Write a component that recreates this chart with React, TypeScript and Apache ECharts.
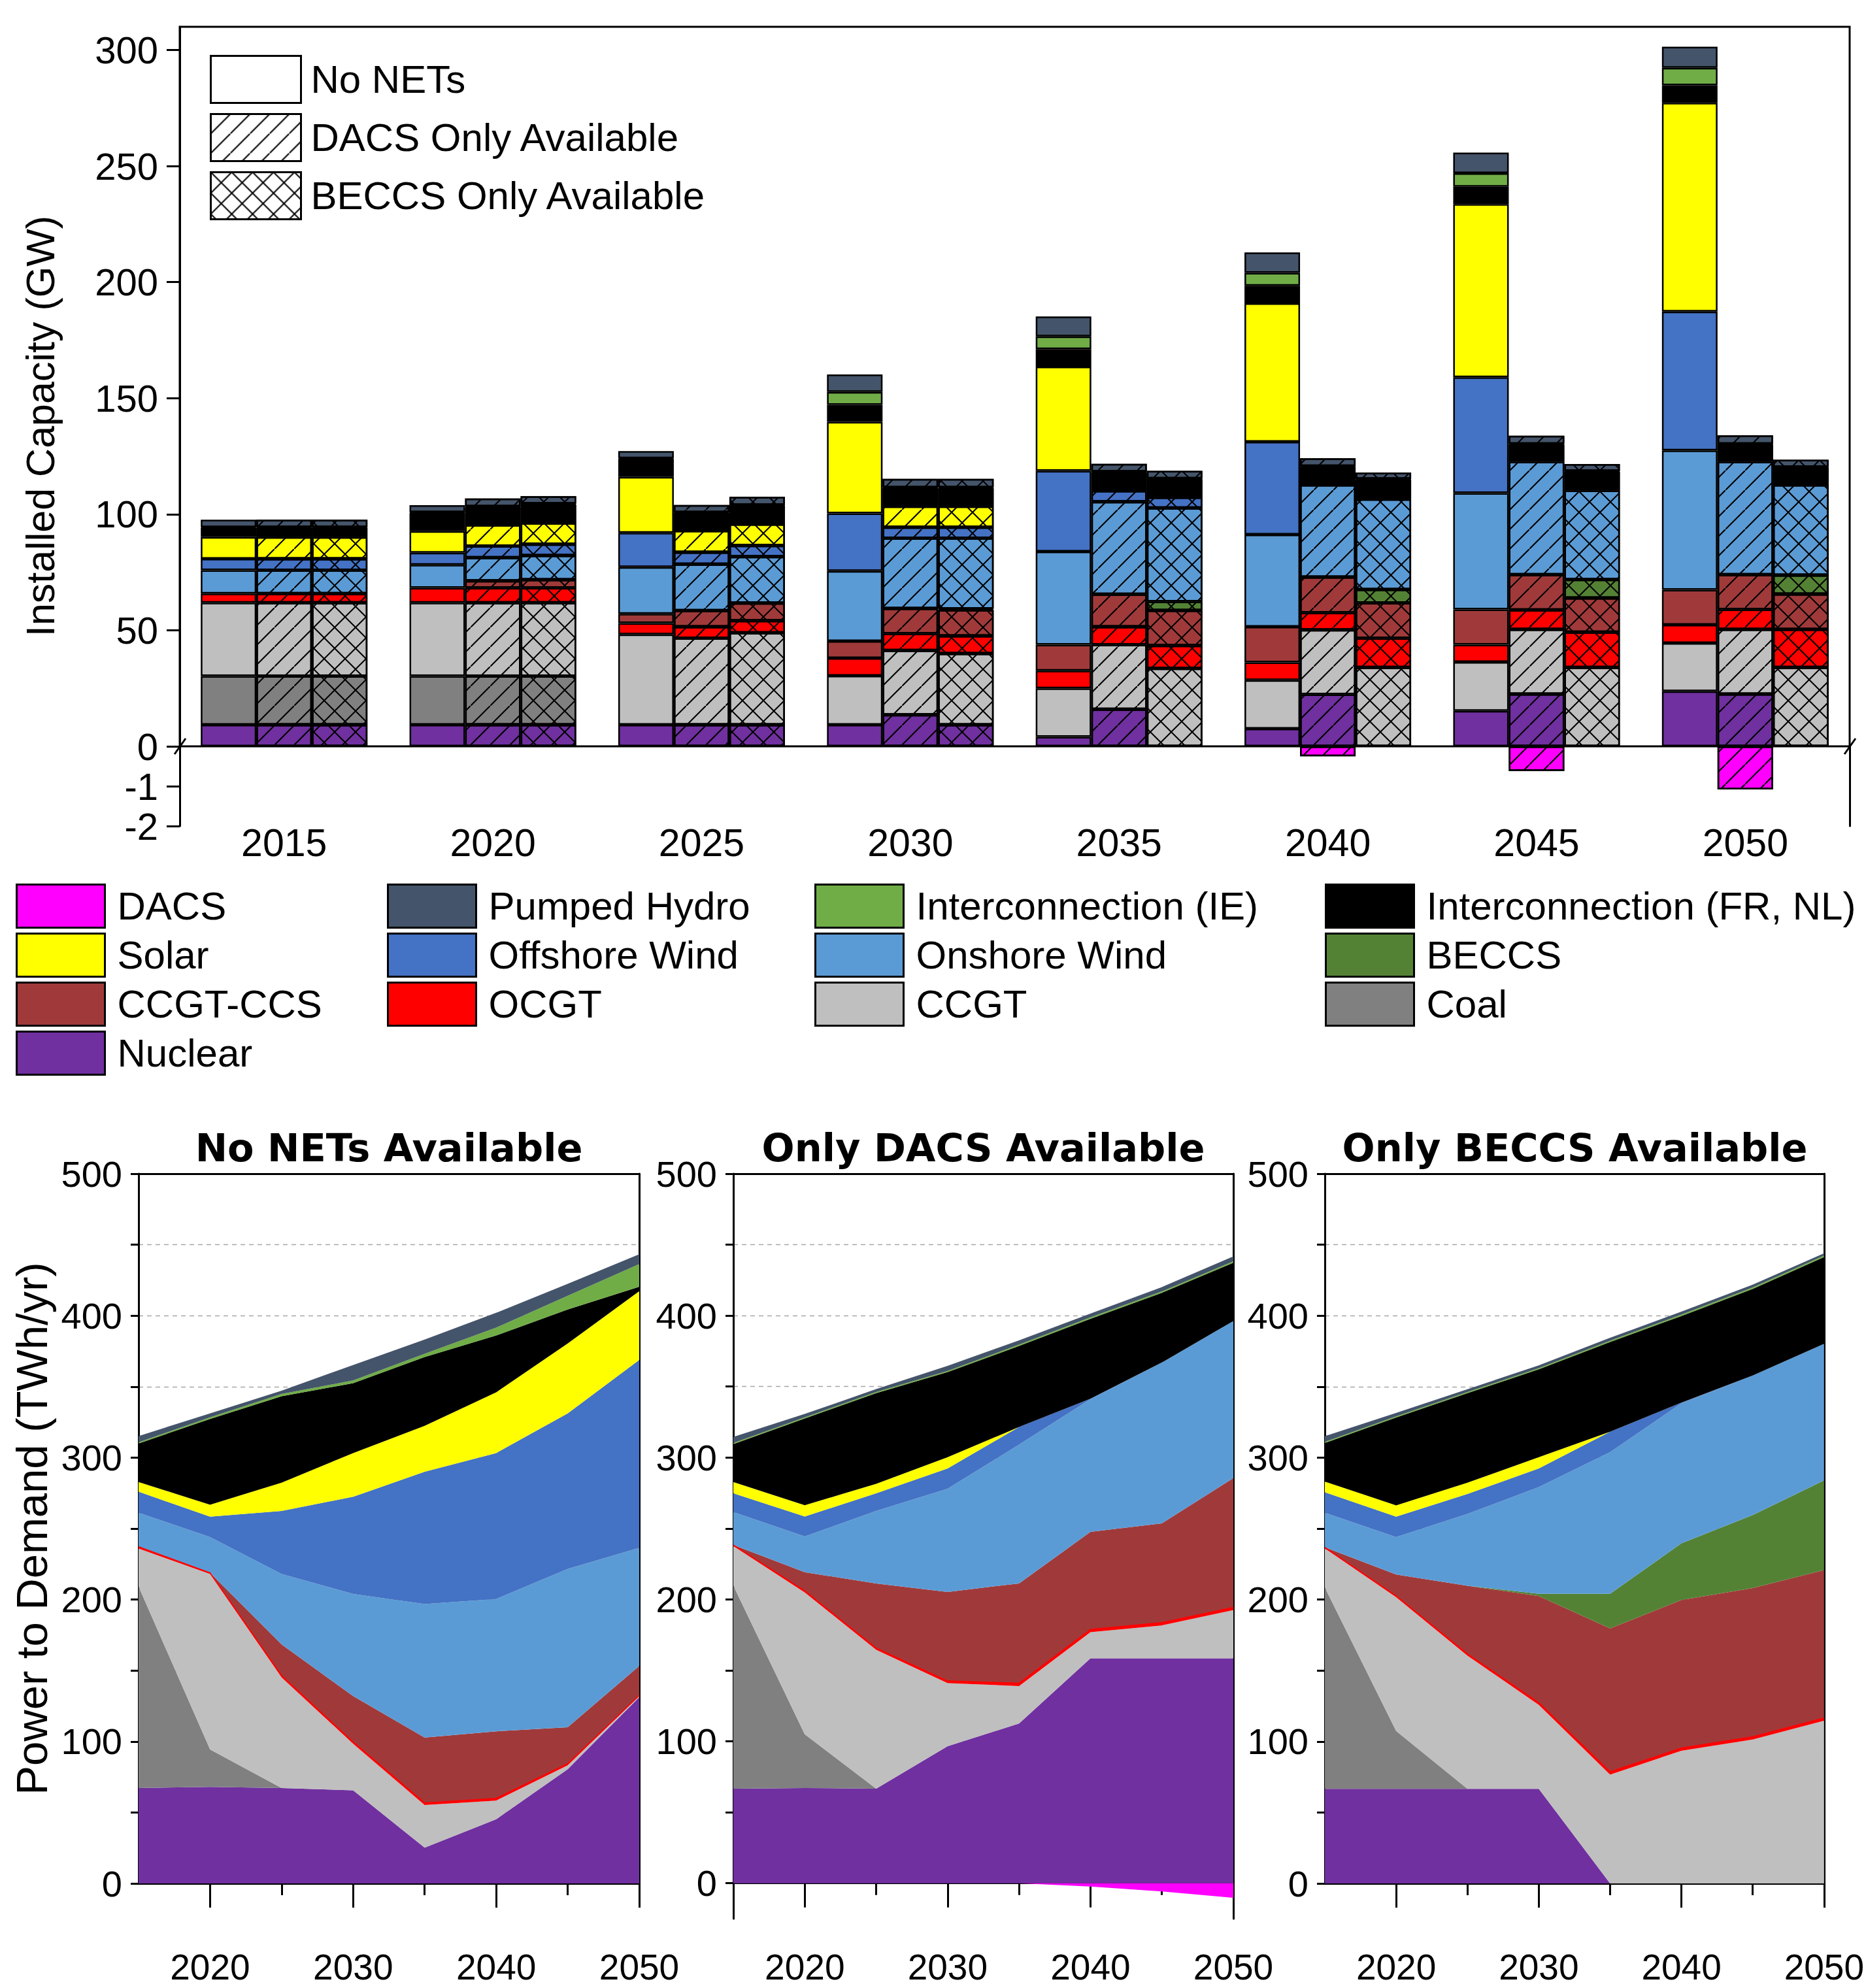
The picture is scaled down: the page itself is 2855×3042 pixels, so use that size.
import React, { useEffect, useRef } from 'react';
import * as echarts from 'echarts';

// ---------------- data ----------------
const years = ['2015', '2020', '2025', '2030', '2035', '2040', '2045', '2050'];
const scenarios = ['No NETs', 'DACS Only Available', 'BECCS Only Available'];
const capacityTicks = [0, 50, 100, 150, 200, 250, 300];
const negativeTicks = [-2, -1];
const demandTicks = [0, 50, 100, 150, 200, 250, 300, 350, 400, 450, 500];
const demandLabels = [0, 100, 200, 300, 400, 500];
const panelTitles = ['No NETs Available', 'Only DACS Available', 'Only BECCS Available'];

// Installed capacity (GW) per technology: [No NETs, DACS only, BECCS only]
const capNuclear = [
  [9.3, 9.3, 9.3, 9.3, 4.1, 7.6, 15.3, 23.7],
  [9.3, 9.3, 9.3, 13.6, 16.0, 22.4, 22.5, 22.5],
  [9.3, 9.3, 9.3, 9.3, 0, 0, 0, 0],
];
const capCoal = [
  [21.0, 21.0, 0, 0, 0, 0, 0, 0],
  [21.0, 21.0, 0, 0, 0, 0, 0, 0],
  [21.0, 21.0, 0, 0, 0, 0, 0, 0],
];
const capCCGT = [
  [31.6, 31.6, 38.9, 21.1, 20.9, 20.9, 21.0, 20.8],
  [31.6, 31.6, 37.3, 27.7, 27.8, 27.8, 27.9, 27.9],
  [31.6, 31.6, 39.6, 30.7, 33.6, 34.0, 34.0, 34.0],
];
const capOCGT = [
  [3.9, 6.4, 4.9, 7.6, 7.6, 7.7, 7.5, 7.9],
  [3.9, 6.4, 4.9, 7.3, 7.7, 7.4, 8.4, 8.6],
  [3.9, 6.4, 5.2, 7.6, 9.8, 12.6, 15.2, 16.4],
];
const capCCS = [
  [0, 0, 4.0, 7.3, 11.2, 15.3, 15.2, 15.0],
  [0, 3.0, 7.0, 10.8, 14.0, 15.3, 15.2, 15.0],
  [0, 3.5, 7.6, 11.2, 15.2, 15.2, 14.7, 15.2],
];
const capBECCS = [
  [0, 0, 0, 0, 0, 0, 0, 0],
  [0, 0, 0, 0, 0, 0, 0, 0],
  [0, 0, 0, 0.5, 3.8, 5.8, 8.0, 8.2],
];
const capOnshore = [
  [10.1, 9.9, 20.1, 30.2, 40.1, 39.7, 50.1, 60.1],
  [10.1, 10.0, 20.0, 30.3, 39.9, 39.7, 48.6, 48.6],
  [10.1, 10.4, 20.0, 30.4, 40.3, 38.9, 38.3, 38.8],
];
const capOffshore = [
  [4.9, 5.2, 14.8, 24.9, 34.8, 40.0, 49.9, 59.8],
  [4.9, 5.0, 5.1, 4.7, 4.7, 0, 0, 0],
  [4.9, 4.9, 4.8, 4.7, 4.6, 0, 0, 0],
];
const capSolar = [
  [9.4, 9.3, 24.1, 39.4, 44.9, 59.7, 74.6, 90.0],
  [9.4, 9.1, 9.3, 9.0, 0, 0, 0, 0],
  [9.4, 9.1, 9.2, 9.0, 0, 0, 0, 0],
];
const capFRNL = [
  [3.9, 7.9, 7.7, 7.3, 7.5, 7.5, 7.5, 7.5],
  [3.9, 7.6, 7.6, 7.8, 7.9, 7.8, 7.4, 7.4],
  [3.9, 8.0, 8.0, 7.8, 7.8, 8.4, 8.1, 7.5],
];
const capIE = [
  [0.3, 0.3, 0.3, 5.6, 5.5, 5.6, 5.8, 7.5],
  [0.3, 0.3, 0.3, 0.3, 0.3, 0.3, 0.3, 0.3],
  [0.3, 0.3, 0.3, 0.3, 0.3, 0.3, 0.3, 0.3],
];
const capPH = [
  [3.2, 3.0, 3.1, 7.5, 8.6, 8.8, 8.9, 9.1],
  [3.2, 3.5, 3.2, 3.7, 3.4, 3.4, 3.5, 3.7],
  [3.2, 3.3, 3.5, 3.7, 3.3, 2.8, 3.0, 3.1],
];
const capDACS = [
  [0, 0, 0, 0, 0, 0, 0, 0],
  [0, 0, 0, 0, 0, -0.25, -0.62, -1.08],
  [0, 0, 0, 0, 0, 0, 0, 0],
];

// Power to demand (TWh/yr) per technology: [No NETs, Only DACS, Only BECCS]
const genNuclear = [
  [67.2, 68.0, 67.2, 65.6, 25.2, 45.2, 80.4, 131.2],
  [66.7, 67.1, 66.7, 96.6, 112.6, 158.5, 158.5, 158.5],
  [66.7, 66.7, 66.7, 66.7, 0, 0, 0, 0],
];
const genCoal = [
  [142.0, 26.4, 0, 0, 0, 0, 0, 0],
  [143.0, 37.9, 0, 0, 0, 0, 0, 0],
  [141.8, 40.7, 0, 0, 0, 0, 0, 0],
];
const genCCGT = [
  [26.8, 123.6, 78.0, 32.8, 30.0, 13.2, 2.8, 0.8],
  [27.9, 99.9, 97.8, 44.4, 26.4, 18.4, 23.2, 34.0],
  [27.5, 94.3, 93.8, 59.1, 76.7, 93.5, 101.4, 114.6],
];
const genOCGT = [
  [1.2, 0.8, 1.2, 1.2, 1.6, 1.6, 1.2, 0.4],
  [0.8, 1.1, 1.2, 1.6, 2.0, 2.0, 2.0, 2.0],
  [0.8, 0.8, 1.2, 1.6, 2.0, 1.9, 2.0, 2.0],
];
const genCCS = [
  [0, 0, 22.0, 32.4, 46.0, 47.2, 25.6, 20.8],
  [0, 13.2, 45.6, 62.7, 70.3, 68.7, 69.9, 91.0],
  [0, 15.2, 48.0, 75.1, 101.0, 104.3, 104.7, 104.2],
];
const genBECCS = [
  [0, 0, 0, 0, 0, 0, 0, 0],
  [0, 0, 0, 0, 0, 0, 0, 0],
  [0, 0, 0, 1.6, 24.4, 39.9, 51.5, 63.1],
];
const genOnshore = [
  [24.0, 25.2, 49.6, 72.0, 94.0, 93.2, 111.6, 83.2],
  [23.2, 25.2, 51.1, 72.7, 97.8, 93.5, 113.4, 110.7],
  [24.4, 26.3, 50.7, 75.1, 99.8, 98.7, 98.2, 96.3],
];
const genOffshore = [
  [14.8, 14.4, 44.4, 68.4, 93.2, 102.8, 109.6, 132.4],
  [13.2, 14.0, 12.4, 14.3, 12.4, 0.4, 0, 0],
  [14.4, 14.4, 14.0, 13.1, 14.4, 0.4, 0, 0],
];
const genSolar = [
  [6.8, 8.4, 20.0, 30.8, 32.4, 42.8, 49.2, 48.4],
  [7.9, 8.0, 6.7, 8.0, 0, 0, 0, 0],
  [7.5, 8.0, 7.9, 8.0, 0, 0, 0, 0],
];
const genFRNL = [
  [27.2, 60.4, 60.8, 49.2, 48.4, 40.0, 24.0, 3.2],
  [26.8, 61.1, 63.9, 59.9, 57.1, 56.3, 49.1, 41.1],
  [27.2, 61.9, 63.1, 61.9, 63.1, 61.1, 61.1, 61.1],
];
const genIE = [
  [0.8, 1.2, 1.6, 2.0, 2.4, 5.6, 9.6, 16.0],
  [0.8, 0.8, 0.8, 0.8, 1.0, 1.0, 1.0, 1.0],
  [0.8, 0.8, 0.8, 0.8, 1.0, 1.0, 1.0, 1.0],
];
const genPH = [
  [4.4, 2.8, 2.4, 10.8, 10.0, 10.4, 8.4, 6.8],
  [4.2, 2.4, 2.0, 3.6, 3.0, 2.6, 3.0, 3.4],
  [4.0, 2.4, 2.0, 2.0, 2.0, 2.0, 2.0, 1.6],
];
const genDACS = [
  [0, 0, 0, 0, 0, 0, 0, 0],
  [0, 0, 0, 0, 0, -2.3, -5.8, -10.3],
  [0, 0, 0, 0, 0, 0, 0, 0],
];

// stacking order bottom -> top
const techNames = [
  'Nuclear', 'Coal', 'CCGT', 'OCGT', 'CCGT-CCS', 'BECCS', 'Onshore Wind',
  'Offshore Wind', 'Solar', 'Interconnection (FR, NL)', 'Interconnection (IE)', 'Pumped Hydro',
];
const capacityByTech = [capNuclear, capCoal, capCCGT, capOCGT, capCCS, capBECCS, capOnshore, capOffshore, capSolar, capFRNL, capIE, capPH];
const generationByTech = [genNuclear, genCoal, genCCGT, genOCGT, genCCS, genBECCS, genOnshore, genOffshore, genSolar, genFRNL, genIE, genPH];

// ---------------- styles ----------------
const techColors = [
  '#7030A0', '#808080', '#BFBFBF', '#FF0000', '#A03A3A', '#548235', '#5B9BD5',
  '#4472C4', '#FFFF00', '#000000', '#70AD47', '#44546A',
];
const DACS_COLOR = '#FF00FF';
const FONT = "'Liberation Sans', Arial, Helvetica, sans-serif";
const BOLD_FONT = "'DejaVu Sans', Verdana, sans-serif";

const hatchDecal = () => ({
  symbol: 'path://M0 10L0.5 10L10 0.5L10 0L9.5 0L0 9.5Z',
  symbolSize: 1,
  symbolKeepAspect: false,
  dashArrayX: [30, 0],
  dashArrayY: [30, 0],
  color: '#000',
  rotation: 0,
});
const crossDecal = () => ({
  symbol: 'path://M0 0L0.45 0L5 4.55L9.55 0L10 0L10 0.45L5.45 5L10 9.55L10 10L9.55 10L5 5.45L0.45 10L0 10L0 9.55L4.55 5L0 0.45Z',
  symbolSize: 1,
  symbolKeepAspect: false,
  dashArrayX: [32, 0],
  dashArrayY: [32, 0],
  color: '#000',
  rotation: 0,
});
const decalFor = (s: number) => (s === 1 ? hatchDecal() : s === 2 ? crossDecal() : undefined);
const nz = (v: number) => (v === 0 ? null : v);

function buildOption() {
  const stacks = ['noNets', 'dacs', 'beccs'];
  const series: any[] = [];

  // ---- top bar chart ----
  scenarios.forEach((_, s) => {
    techNames.forEach((name, t) => {
      series.push({
        name,
        type: 'bar',
        xAxisIndex: 0,
        yAxisIndex: 0,
        stack: stacks[s],
        barWidth: 85,
        barGap: '0%',
        silent: true,
        data: capacityByTech[t][s].map(nz),
        itemStyle: { color: techColors[t], borderColor: '#000', borderWidth: 2.5, decal: decalFor(s) },
      });
    });
  });
  scenarios.forEach((_, s) => {
    series.push({
      name: 'DACS',
      type: 'bar',
      xAxisIndex: 1,
      yAxisIndex: 1,
      stack: stacks[s],
      barWidth: 85,
      barGap: '0%',
      silent: true,
      data: capDACS[s].map(nz),
      itemStyle: { color: DACS_COLOR, borderColor: '#000', borderWidth: 2.5, decal: decalFor(s) },
    });
  });
  scenarios.forEach((name, s) => {
    series.push({
      name,
      type: 'bar',
      xAxisIndex: 0,
      yAxisIndex: 0,
      stack: stacks[s],
      barWidth: 85,
      barGap: '0%',
      data: [],
      itemStyle: { color: '#FFFFFF', borderColor: '#000', borderWidth: 3, decal: decalFor(s) },
    });
  });

  // ---- bottom area panels ----
  const panelLeft = [212, 1122, 2027];
  const panelWidth = [766, 765, 765];
  const panelTop = 1796;
  const zeroY = 2882;
  const grids: any[] = [
    { left: 275, right: 25, top: 41, height: 1101, show: true, borderColor: '#000', borderWidth: 3 },
    { left: 275, right: 25, top: 1142, height: 122 },
  ];
  const xAxes: any[] = [
    { gridIndex: 0, type: 'category', data: years, show: false },
    {
      gridIndex: 1, type: 'category', data: years, position: 'bottom',
      axisLine: { show: false, onZero: false }, axisTick: { show: false },
      axisLabel: { interval: 0, margin: -4, fontSize: 59, fontFamily: FONT, color: '#000' },
      splitLine: { show: false },
    },
  ];
  const axisLineStyle = { color: '#000', width: 3 };
  const yAxes: any[] = [
    {
      gridIndex: 0, type: 'value', min: 0, max: 310, interval: 50,
      axisLine: { show: true, lineStyle: axisLineStyle },
      axisTick: { show: true, length: 20, lineStyle: axisLineStyle, customValues: capacityTicks },
      axisLabel: { customValues: capacityTicks, margin: 33, fontSize: 58, fontFamily: FONT, color: '#000' },
      splitLine: { show: false },
    },
    {
      gridIndex: 1, type: 'value', min: -2, max: 0, interval: 1,
      axisLine: { show: true, lineStyle: axisLineStyle },
      axisTick: { show: true, length: 20, lineStyle: axisLineStyle, customValues: negativeTicks },
      axisLabel: { customValues: negativeTicks, margin: 33, fontSize: 58, fontFamily: FONT, color: '#000' },
      splitLine: { show: false },
    },
    {
      gridIndex: 1, type: 'value', position: 'right', min: -2, max: 0, interval: 1,
      axisLine: { show: true, lineStyle: axisLineStyle },
      axisTick: { show: false }, axisLabel: { show: false }, splitLine: { show: false },
    },
  ];

  const isMajor = (_: number, v: string) => Number(v) % 10 === 0;
  const isMinor = (_: number, v: string) => Number(v) % 10 === 5 && v !== '2015';

  for (let p = 0; p < 3; p++) {
    const gridIndex = grids.length;
    const yMin = p === 1 ? -25 : 0;
    const gridBottom = p === 1 ? 2936 : zeroY;
    grids.push({ left: panelLeft[p], width: panelWidth[p], top: panelTop, height: gridBottom - panelTop });
    const yMainIndex = yAxes.length;
    const xMainIndex = xAxes.length;
    xAxes.push(
      {
        gridIndex, type: 'category', data: years, boundaryGap: false, position: 'bottom',
        axisLine: { show: true, onZero: true, onZeroAxisIndex: yMainIndex, lineStyle: axisLineStyle },
        axisTick: { show: true, inside: false, length: 37, lineStyle: axisLineStyle, interval: isMajor },
        axisLabel: { interval: isMajor, margin: 2982 - gridBottom, fontSize: 55, fontFamily: FONT, color: '#000' },
        splitLine: { show: false },
      },
      {
        gridIndex, type: 'category', data: years, boundaryGap: false, position: 'bottom',
        axisLine: { show: false, onZero: true, onZeroAxisIndex: yMainIndex },
        axisTick: { show: true, inside: false, length: 18, lineStyle: axisLineStyle, interval: isMinor },
        axisLabel: { show: false },
        splitLine: { show: false },
      },
      {
        gridIndex, type: 'category', data: years, boundaryGap: false, position: 'top',
        axisLine: { show: true, onZero: false, lineStyle: axisLineStyle },
        axisTick: { show: false }, axisLabel: { show: false }, splitLine: { show: false },
      },
    );
    const gridLineColors = demandTicks.map(() => '#A6A6A6');
    yAxes.push(
      {
        gridIndex, type: 'value', min: yMin, max: 500,
        ...(p === 1 ? { splitNumber: 10 } : { interval: 50 }),
        axisLine: { show: true, lineStyle: axisLineStyle },
        axisTick: { show: true, length: 12, lineStyle: axisLineStyle, customValues: demandTicks },
        axisLabel: { customValues: demandLabels, margin: 25, fontSize: 56, fontFamily: FONT, color: '#000' },
        splitLine: {
          show: true, showMinLine: false, showMaxLine: false,
          lineStyle: { type: [7, 6], width: 1.3, color: p === 1 ? ['rgba(0,0,0,0)', ...gridLineColors] : gridLineColors },
        },
        ...(p === 0
          ? {
              name: 'Power to Demand (TWh/yr)',
              nameLocation: 'middle',
              nameGap: 130,
              nameTextStyle: { fontSize: 67, fontFamily: FONT, color: '#000' },
            }
          : {}),
      },
      {
        gridIndex, type: 'value', position: 'right', min: yMin, max: 500,
        axisLine: { show: true, lineStyle: axisLineStyle },
        axisTick: { show: false }, axisLabel: { show: false }, splitLine: { show: false },
      },
    );

    techNames.forEach((name, t) => {
      const vals = generationByTech[t][p];
      if (vals.every((v) => v === 0)) return;
      series.push({
        name,
        type: 'line',
        xAxisIndex: xMainIndex,
        yAxisIndex: yMainIndex,
        stack: 'gen' + p,
        symbol: 'none',
        showSymbol: false,
        silent: true,
        data: vals,
        lineStyle: { width: name === 'OCGT' ? 1.5 : 0, color: techColors[t] },
        itemStyle: { color: techColors[t] },
        areaStyle: { color: techColors[t], opacity: 1 },
      });
    });
    if (!genDACS[p].every((v) => v === 0)) {
      series.push({
        name: 'DACS',
        type: 'line',
        xAxisIndex: xMainIndex,
        yAxisIndex: yMainIndex,
        stack: 'neg' + p,
        symbol: 'none',
        showSymbol: false,
        silent: true,
        data: genDACS[p],
        lineStyle: { width: 0, color: DACS_COLOR },
        itemStyle: { color: DACS_COLOR },
        areaStyle: { color: DACS_COLOR, opacity: 1 },
      });
    }
  }

  const legendBase = {
    orient: 'vertical',
    selectedMode: false,
    icon: 'rect',
    itemWidth: 135,
    itemHeight: 66,
    itemGap: 6,
    padding: 0,
    itemStyle: { borderColor: '#000', borderWidth: 3 },
    textStyle: { fontSize: 60, lineHeight: 60, fontFamily: FONT, color: '#000', padding: [0, 0, 0, 14] },
  };

  return {
    animation: false,
    backgroundColor: '#FFFFFF',
    textStyle: { fontFamily: FONT },
    title: panelTitles.map((text, p) => ({
      text,
      left: panelLeft[p] + panelWidth[p] / 2,
      top: 1756,
      textAlign: 'center',
      textVerticalAlign: 'middle',
      padding: 0,
      textStyle: { fontSize: 59, fontWeight: 'bold', fontFamily: BOLD_FONT, color: '#000' },
    })),
    legend: [
      { ...legendBase, left: 24, top: 1352, data: ['DACS', 'Solar', 'CCGT-CCS', 'Nuclear'] },
      { ...legendBase, left: 592, top: 1352, data: ['Pumped Hydro', 'Offshore Wind', 'OCGT'] },
      { ...legendBase, left: 1246, top: 1352, data: ['Interconnection (IE)', 'Onshore Wind', 'CCGT'] },
      { ...legendBase, left: 2027, top: 1352, data: ['Interconnection (FR, NL)', 'BECCS', 'Coal'] },
      {
        ...legendBase, left: 321, top: 84, itemWidth: 138, itemHeight: 72, itemGap: 14,
        textStyle: { ...legendBase.textStyle, padding: [0, 0, 0, 10] },
        data: scenarios,
      },
    ],
    grid: grids,
    xAxis: xAxes,
    yAxis: yAxes,
    series,
    graphic: [
      {
        type: 'text',
        x: 62,
        y: 652,
        rotation: Math.PI / 2,
        style: { text: 'Installed Capacity (GW)', fontSize: 61, fontFamily: FONT, fill: '#000', align: 'center', verticalAlign: 'middle' },
      },
      { type: 'line', shape: { x1: 267, y1: 1154, x2: 284, y2: 1130 }, style: { stroke: '#000', lineWidth: 3 } },
      { type: 'line', shape: { x1: 2822, y1: 1154, x2: 2839, y2: 1130 }, style: { stroke: '#000', lineWidth: 3 } },
    ],
  };
}

export default function App() {
  const ref = useRef<HTMLDivElement>(null);
  useEffect(() => {
    if (!ref.current) return;
    const chart = echarts.init(ref.current, null, { renderer: 'svg' });
    chart.setOption(buildOption() as any);
    return () => chart.dispose();
  }, []);
  return <div ref={ref} style={{ position: 'absolute', left: 0, top: 0, width: 2855, height: 3042, background: '#fff' }} />;
}
